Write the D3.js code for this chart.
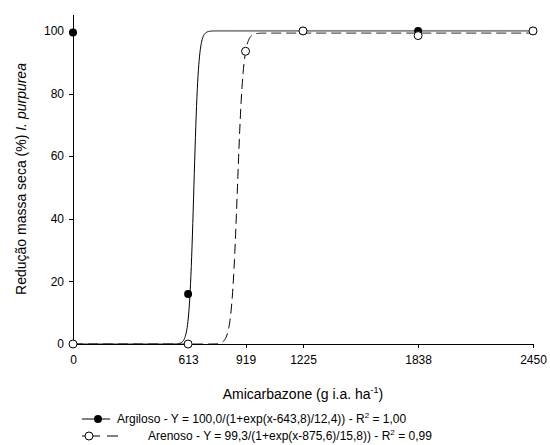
<!DOCTYPE html>
<html>
<head>
<meta charset="utf-8">
<script src="https://cdn.jsdelivr.net/npm/d3@7"></script>
<style>
  body { margin: 0; background: #fff; }
  text { font-family: Arial, "Liberation Sans", sans-serif; fill: #000; }
</style>
</head>
<body>
<div id="chart"></div>
<script>
// doses (g i.a. ha-1) and observed values
var xTicks = [0, 613, 919, 1225, 1838, 2450];
var yTicks = [0, 20, 40, 60, 80, 100];
var argilosoX = [0, 613, 1225, 1838, 2450];
var argilosoY = [99.5, 16, 100, 100, 100];
var arenosoX = [0, 613, 919, 1225, 1838, 2450];
var arenosoY = [0, 0, 93.5, 100, 98.5, 100];
// fitted model params: a, x0, b
var argilosoFit = [100.0, 643.8, 12.4];
var arenosoFit = [99.3, 875.6, 15.8];
var legendLabels = [
  "Argiloso - Y = 100,0/(1+exp(x-643,8)/12,4)) - R",
  "Arenoso - Y = 99,3/(1+exp(x-875,6)/15,8)) - R"
];
var legendR2 = [" = 1,00", " = 0,99"];

var width = 550,
    height = 445,
    plotLeft = 73,
    plotRight = 533,
    plotBottom = 344,
    plotTop = 14;

var svg = d3.select("#chart").append("svg")
    .attr("width", width)
    .attr("height", height);

var x = d3.scaleLinear().domain([0, 2450]).range([plotLeft, plotRight]);
var y = d3.scaleLinear().domain([0, 105.4]).range([plotBottom, plotTop]);

// axes
var xAxis = d3.axisBottom(x).tickValues(xTicks).tickFormat(d3.format("d"))
    .tickSize(4).tickSizeOuter(0).tickPadding(7);
var yAxis = d3.axisLeft(y).tickValues(yTicks).tickFormat(d3.format("d"))
    .tickSize(4).tickSizeOuter(0).tickPadding(5);

var gx = svg.append("g").attr("transform", "translate(0," + plotBottom + ")").call(xAxis);
var gy = svg.append("g").attr("transform", "translate(" + plotLeft + ",0)").call(yAxis);
[gx, gy].forEach(function(g) {
    g.selectAll("path, line").attr("stroke", "#000").attr("shape-rendering", "crispEdges");
    g.selectAll("text").style("font-size", "12px").style("font-family", "Arial, 'Liberation Sans', sans-serif");
});

// fitted curves
function fitLine(p) {
    var pts = d3.range(0, 2451, 2).map(function(v) {
        return [v, p[0] / (1 + Math.exp(-(v - p[1]) / p[2]))];
    });
    return d3.line().x(function(d) { return x(d[0]); }).y(function(d) { return y(d[1]); })(pts);
}

svg.append("path")
    .attr("d", fitLine(argilosoFit))
    .attr("fill", "none")
    .attr("stroke", "#000")
    .attr("stroke-width", 1);

svg.append("path")
    .attr("d", fitLine(arenosoFit))
    .attr("fill", "none")
    .attr("stroke", "#000")
    .attr("stroke-width", 1)
    .attr("stroke-dasharray", "10,5");

// points
svg.selectAll(".argiloso").data(argilosoX).enter().append("circle")
    .attr("class", "argiloso")
    .attr("cx", function(d) { return x(d); })
    .attr("cy", function(d, i) { return y(argilosoY[i]); })
    .attr("r", 4)
    .attr("fill", "#000");

svg.selectAll(".arenoso").data(arenosoX).enter().append("circle")
    .attr("class", "arenoso")
    .attr("cx", function(d) { return x(d); })
    .attr("cy", function(d, i) { return y(arenosoY[i]); })
    .attr("r", 4)
    .attr("fill", "#fff")
    .attr("stroke", "#000");

// axis titles
var xt = svg.append("text")
    .attr("x", (plotLeft + plotRight) / 2)
    .attr("y", 399)
    .attr("text-anchor", "middle")
    .style("font-size", "14px");
xt.append("tspan").text("Amicarbazone (g i.a. ha");
xt.append("tspan").attr("dy", -6).style("font-size", "9px").text("-1");
xt.append("tspan").attr("dy", 6).text(")");

var yt = svg.append("text")
    .attr("transform", "translate(26," + (plotTop + plotBottom) / 2 + ") rotate(-90)")
    .attr("text-anchor", "middle")
    .style("font-size", "14px");
yt.append("tspan").text("Redução massa seca (%) ");
yt.append("tspan").style("font-style", "italic").text("I. purpurea");

// legend
var leg = svg.append("g");
leg.append("line").attr("x1", 82).attr("x2", 110).attr("y1", 419).attr("y2", 419).attr("stroke", "#000");
leg.append("circle").attr("cx", 98).attr("cy", 419).attr("r", 4).attr("fill", "#000");
leg.append("line").attr("x1", 82).attr("x2", 118).attr("y1", 436).attr("y2", 436)
    .attr("stroke", "#000").attr("stroke-dasharray", "18,7,11");
leg.append("circle").attr("cx", 89).attr("cy", 436).attr("r", 4).attr("fill", "#fff").attr("stroke", "#000");

var legX = [117, 148];
legendLabels.forEach(function(lbl, i) {
    var t = leg.append("text")
        .attr("x", legX[i])
        .attr("y", 423 + i * 17)
        .style("font-size", "12px");
    t.append("tspan").text(lbl);
    t.append("tspan").attr("dy", -5).style("font-size", "8px").text("2");
    t.append("tspan").attr("dy", 5).text(legendR2[i]);
});
</script>
</body>
</html>
